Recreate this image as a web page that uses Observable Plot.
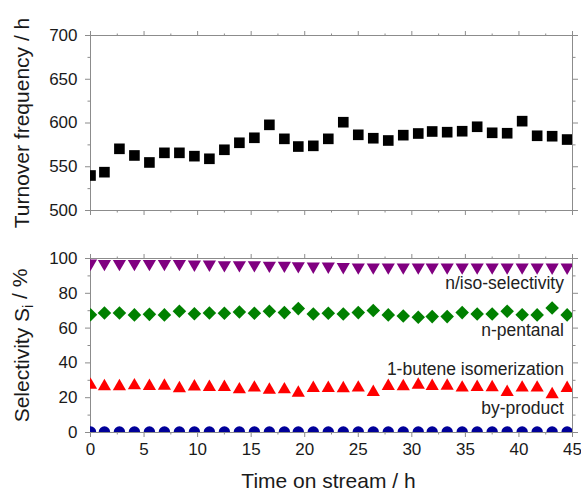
<!DOCTYPE html>
<html>
<head>
<meta charset="utf-8">
<script src="https://cdn.jsdelivr.net/npm/d3@7"></script>
<script src="https://cdn.jsdelivr.net/npm/@observablehq/plot@0.6"></script>
<style>
  html, body { margin: 0; padding: 0; background: #fff; }
  #chart { width: 581px; height: 493px; font-family: "Liberation Sans", Arial, sans-serif; }
  #chart svg { display: block; }
</style>
</head>
<body>
<div id="chart"></div>
<script>
// ---- data ----
const time = [0, 1.3, 2.7, 4.1, 5.5, 6.9, 8.3, 9.7, 11.1, 12.5, 13.9, 15.3, 16.7, 18.1, 19.4, 20.8, 22.2,
  23.6, 25.0, 26.4, 27.8, 29.2, 30.6, 31.9, 33.3, 34.7, 36.1, 37.5, 38.9, 40.3, 41.7, 43.1, 44.5];
const tof = [540, 543.8, 570.5, 562.9, 554.9, 565.9, 565.9, 562.1, 559.1, 569.4, 577.4, 583.1, 597.9, 581.9, 573.1, 573.9, 581.9,
  600.9, 586.5, 582.6, 580, 586.1, 588, 590.3, 589.5, 590.6, 595.7, 588.8, 588.3, 602.1, 585.4, 584.9, 581.1];
const nIsoSelectivity = [97.2, 97, 97, 97, 97, 97, 97, 96.6, 96.6, 96.3, 96.3, 96.3, 96, 96, 95.7, 95.5, 95.5,
  95.2, 95, 95, 95, 95, 95, 95, 95, 95, 95, 95, 95, 95, 95, 94.9, 94.9];
const nPentanal = [67.7, 68.7, 68.7, 67.6, 67.9, 67.6, 69.7, 68.3, 68.7, 68.5, 69.3, 68.5, 69.7, 68.9, 71.2, 68.1, 68.5,
  68.1, 68.9, 70.1, 67.6, 67.0, 66.2, 66.6, 66.6, 68.9, 68.1, 68.1, 69.7, 67.7, 67.6, 71.6, 67.6];
const buteneIsomerization = [27.3, 26.5, 26.5, 27.0, 26.6, 26.8, 25.3, 26.3, 26.1, 26.1, 24.7, 25.7, 24.5, 24.7, 22.8, 25.5, 25.5,
  25.3, 25.7, 23.2, 26.6, 26.5, 27.4, 26.6, 26.8, 25.7, 26.1, 25.9, 23.2, 25.7, 25.7, 21.9, 25.5];
const byProduct = [0.3, 0.3, 0.3, 0.3, 0.3, 0.3, 0.3, 0.3, 0.3, 0.3, 0.3, 0.3, 0.3, 0.3, 0.3, 0.3, 0.3,
  0.3, 0.3, 0.3, 0.3, 0.3, 0.3, 0.3, 0.3, 0.3, 0.3, 0.3, 0.3, 0.3, 0.3, 0.3, 0.3];
const seriesNames = ["n/iso-selectivity", "n-pentanal", "1-butene isomerization", "by-product"];
const xTicks = [0, 5, 10, 15, 20, 25, 30, 35, 40, 45];
const xMinorTicks = [2.5, 7.5, 12.5, 17.5, 22.5, 27.5, 32.5, 37.5, 42.5];
const tofTicks = [500, 550, 600, 650, 700];
const tofMinorTicks = [525, 575, 625, 675];
const selTicks = [0, 20, 40, 60, 80, 100];
const selMinorTicks = [10, 30, 50, 70, 90];
const xTitle = "Time on stream / h";
const tofTitle = "Turnover frequency / h";
const selTitle = "Selectivity Si / %";

// ---- layout / style ----
const axisColor = "#8c8c8c";
const textColor = "#1a1a1a";
const font = "Liberation Sans, Arial, sans-serif";
const W = 581;
const labelPos = [82.4, 55.3, 33.0, 10.8]; // label baselines (y units) for seriesNames

const downTriangle = {
  draw(context, size) {
    const y = Math.sqrt(size / (3 * Math.sqrt(3)));
    context.moveTo(0, 2 * y);
    context.lineTo(Math.sqrt(3) * y, -y);
    context.lineTo(-Math.sqrt(3) * y, -y);
    context.closePath();
  }
};

function frameAxes(yTicks, yMinor, withXLabels) {
  const blank = () => "";
  return [
    Plot.axisX({ticks: xTicks, anchor: "bottom", tickSize: 5, tickPadding: 5, fontSize: 17,
      tickFormat: withXLabels ? (d => String(d)) : blank, label: null, stroke: axisColor, fill: textColor}),
    Plot.axisX({ticks: xMinorTicks, anchor: "bottom", tickSize: 2.5, tickFormat: blank, label: null, stroke: axisColor}),
    Plot.axisX({ticks: xTicks, anchor: "top", tickSize: 5, tickFormat: blank, label: null, stroke: axisColor}),
    Plot.axisX({ticks: xMinorTicks, anchor: "top", tickSize: 2.5, tickFormat: blank, label: null, stroke: axisColor}),
    Plot.axisY({ticks: yTicks, anchor: "left", tickSize: 5, tickPadding: 8, fontSize: 17,
      tickFormat: d => String(d), label: null, stroke: axisColor, fill: textColor}),
    Plot.axisY({ticks: yMinor, anchor: "left", tickSize: 2.5, tickFormat: blank, label: null, stroke: axisColor}),
    Plot.axisY({ticks: yTicks, anchor: "right", tickSize: 5, tickFormat: blank, label: null, stroke: axisColor}),
    Plot.axisY({ticks: yMinor, anchor: "right", tickSize: 2.5, tickFormat: blank, label: null, stroke: axisColor}),
    Plot.frame({stroke: axisColor})
  ];
}

const tofData = time.map((t, i) => ({t, v: tof[i]}));
const selData = (arr) => time.map((t, i) => ({t, v: arr[i]}));

const topPlot = Plot.plot({
  width: W, height: 222,
  marginLeft: 90, marginRight: 9, marginTop: 35, marginBottom: 12,
  style: {fontFamily: font, background: "#fff", color: textColor, overflow: "visible"},
  x: {domain: [0, 45]},
  y: {domain: [500, 700]},
  marks: [
    ...frameAxes(tofTicks, tofMinorTicks, false),
    Plot.dot(tofData, {x: "t", y: "v", symbol: "square", r: 6, fill: "#000", clip: true}),
    Plot.text([tofTitle], {frameAnchor: "left", text: d => d, rotate: -90, dx: -68,
      fontSize: 21, fill: textColor, textAnchor: "middle", lineAnchor: "middle"})
  ]
});

const labels = seriesNames.map((name, i) => ({name, y: labelPos[i]}));

const bottomPlot = Plot.plot({
  width: W, height: 271,
  marginLeft: 90, marginRight: 9, marginTop: 36, marginBottom: 61,
  style: {fontFamily: font, background: "#fff", color: textColor, overflow: "visible"},
  x: {domain: [0, 45]},
  y: {domain: [0, 100]},
  marks: [
    ...frameAxes(selTicks, selMinorTicks, true),
    Plot.dot(selData(nIsoSelectivity), {x: "t", y: "v", symbol: downTriangle, r: 4.9, fill: "#800080", clip: true}),
    Plot.dot(selData(nPentanal), {x: "t", y: "v", symbol: "diamond2", r: 6.1, fill: "#008000", clip: true}),
    Plot.dot(selData(buteneIsomerization), {x: "t", y: "v", symbol: "triangle", r: 4.9, fill: "#ff0000", clip: true}),
    Plot.dot(selData(byProduct), {x: "t", y: "v", symbol: "circle", r: 5.7, fill: "#000099", clip: true}),
    Plot.text(labels, {x: () => 44.2, y: "y", text: "name", textAnchor: "end", lineAnchor: "bottom",
      fontSize: 17.5, fill: "#222"}),
    Plot.text([selTitle], {frameAnchor: "left", text: d => d, rotate: -90, dx: -68,
      fontSize: 21, fill: textColor, textAnchor: "middle", lineAnchor: "middle"}),
    Plot.text([xTitle], {frameAnchor: "bottom", text: d => d, dy: 55, dx: -3,
      fontSize: 21, fill: textColor, textAnchor: "middle", lineAnchor: "bottom"})
  ]
});

// subscript i in "Selectivity Si / %"
d3.select(bottomPlot).selectAll("text").filter(function () { return this.textContent === selTitle; })
  .each(function () {
    const t = d3.select(this);
    t.text(null);
    t.append("tspan").text("Selectivity S");
    t.append("tspan").attr("font-size", 14).attr("dy", "0.3em").text("i");
    t.append("tspan").attr("dy", "-0.3em").text(" / %");
  });

const chart = document.getElementById("chart");
chart.appendChild(topPlot);
chart.appendChild(bottomPlot);
</script>
</body>
</html>
